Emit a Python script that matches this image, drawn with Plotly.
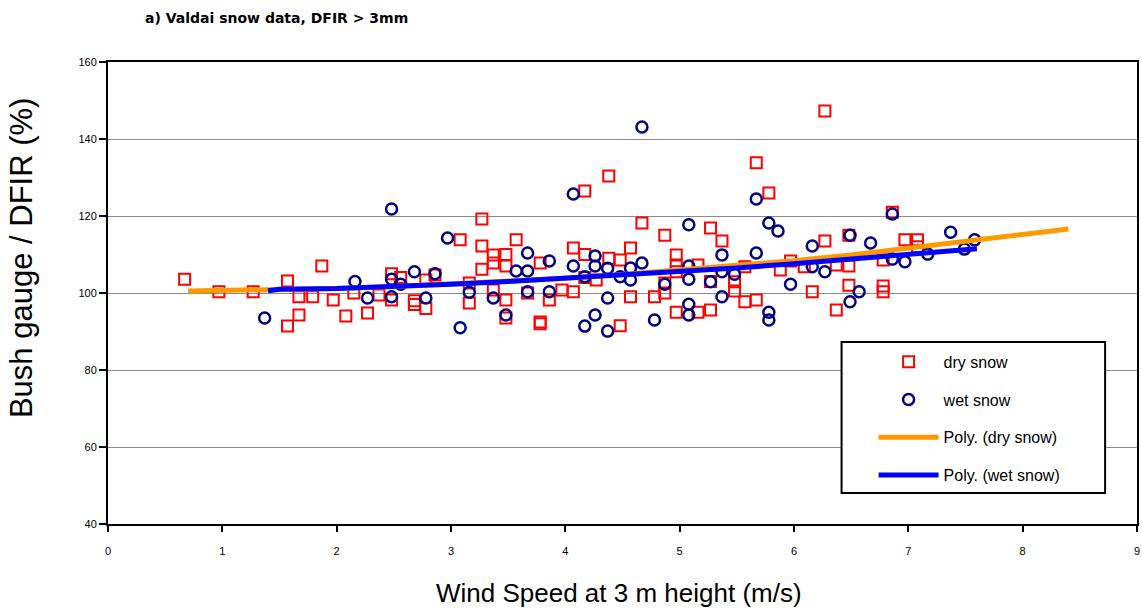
import plotly.graph_objects as go

# ---- data ----
dry_wind = [0.67, 0.97, 1.27, 1.57, 1.57, 1.67, 1.67, 1.79, 1.87, 1.97, 2.08, 2.15, 2.27, 2.37,
            2.48, 2.48, 2.56, 2.68, 2.68, 2.78, 2.78, 2.86, 3.08, 3.16, 3.16, 3.27, 3.27, 3.27,
            3.37, 3.37, 3.37, 3.48, 3.48, 3.48, 3.48, 3.57, 3.67, 3.78, 3.78, 3.78, 3.86, 3.97,
            4.07, 4.07, 4.17, 4.17, 4.17, 4.27, 4.38, 4.38, 4.48, 4.48, 4.57, 4.57, 4.67, 4.78,
            4.87, 4.87, 4.87, 4.97, 4.97, 4.97, 4.97, 5.16, 5.16, 5.27, 5.27, 5.27, 5.37, 5.48,
            5.48, 5.57, 5.57, 5.67, 5.67, 5.78, 5.88, 5.97, 6.09, 6.16, 6.27, 6.27, 6.37, 6.37,
            6.48, 6.48, 6.48, 6.78, 6.78, 6.78, 6.86, 6.97, 7.08, 7.08]
dry_ratio = [103.6, 100.3, 100.3, 103.1, 91.4, 99.0, 94.3, 99.0, 107.0, 98.2, 94.0, 100.0, 94.8, 99.5,
             105.0, 98.2, 104.0, 98.0, 97.0, 96.0, 103.4, 104.7, 113.8, 102.6, 97.4, 119.2, 112.2, 106.2,
             109.9, 107.8, 100.8, 110.0, 107.0, 98.2, 93.5, 113.8, 100.0, 107.8, 92.5, 92.0, 98.2, 100.8,
             111.7, 100.3, 110.0, 104.0, 126.5, 103.4, 109.0, 130.4, 108.6, 91.5, 111.7, 99.0, 118.2, 99.0,
             115.0, 102.6, 100.0, 109.9, 107.3, 105.5, 95.0, 107.3, 95.0, 116.9, 95.6, 103.0, 113.5, 102.9,
             100.5, 106.8, 97.7, 133.8, 98.2, 126.0, 106.0, 108.3, 106.8, 100.3, 147.3, 113.5, 95.6, 107.3,
             115.0, 107.0, 102.0, 108.6, 101.8, 100.3, 121.0, 113.8, 113.8, 112.0]

wet_wind = [1.37, 2.16, 2.27, 2.48, 2.48, 2.48, 2.56, 2.68, 2.78, 2.86, 2.97, 3.08, 3.16, 3.37,
            3.48, 3.57, 3.67, 3.67, 3.67, 3.86, 3.86, 4.07, 4.07, 4.17, 4.17, 4.26, 4.26, 4.26,
            4.37, 4.37, 4.37, 4.48, 4.57, 4.57, 4.67, 4.67, 4.78, 4.87, 5.08, 5.08, 5.08, 5.08,
            5.08, 5.27, 5.37, 5.37, 5.37, 5.48, 5.67, 5.67, 5.78, 5.78, 5.78, 5.86, 5.97, 6.16,
            6.16, 6.27, 6.49, 6.49, 6.57, 6.67, 6.86, 6.86, 6.97, 7.17, 7.37, 7.49, 7.58]
wet_ratio = [93.5, 103.0, 98.7, 121.8, 103.6, 99.0, 102.3, 105.5, 98.7, 105.0, 114.3, 91.0, 100.2, 98.7,
             94.3, 105.7, 110.4, 105.7, 100.3, 108.3, 100.3, 107.0, 125.7, 104.2, 91.4, 109.6, 107.0, 94.3,
             106.4, 98.7, 90.1, 104.2, 106.5, 103.4, 107.8, 143.1, 93.0, 102.3, 117.7, 107.0, 103.6, 97.1,
             94.3, 102.9, 109.9, 105.5, 99.0, 104.9, 124.4, 110.4, 118.2, 95.0, 93.0, 116.1, 102.3, 112.2,
             106.8, 105.5, 115.0, 97.7, 100.3, 113.0, 120.5, 108.8, 108.1, 110.1, 115.8, 111.4, 113.8]

dry_trend_wind = [0.7, 1.0, 1.5, 2.0, 2.5, 3.0, 3.5, 4.0, 4.5, 5.0, 5.5, 6.0, 6.5, 7.0, 7.5, 8.0, 8.4]
dry_trend_ratio = [100.5, 100.6, 100.8, 101.2, 101.7, 102.3, 103.0, 103.8, 104.8, 105.9, 107.1,
                   108.4, 109.9, 111.6, 113.4, 115.0, 116.6]

wet_trend_wind = [1.4, 1.5, 2.0, 2.5, 3.0, 3.5, 4.0, 4.5, 5.0, 5.5, 6.0, 6.5, 7.0, 7.5, 7.6]
wet_trend_ratio = [100.6, 101.0, 101.2, 101.6, 102.3, 103.0, 103.8, 104.7, 105.6, 106.5, 107.6,
                   108.8, 110.1, 111.2, 111.5]

FONT = "Liberation Sans, Arial, sans-serif"

fig = go.Figure()
fig.add_trace(go.Scatter(
    x=dry_wind, y=dry_ratio, mode="markers", name="dry snow", legendgroup="a",
    marker=dict(symbol="square-open", size=11, color="#FF0000", line=dict(width=2, color="#FF0000")),
))
fig.add_trace(go.Scatter(
    x=wet_wind, y=wet_ratio, mode="markers", name="wet snow", legendgroup="b",
    marker=dict(symbol="circle-open", size=11, color="#000080", line=dict(width=2.5, color="#000080")),
))
fig.add_trace(go.Scatter(
    x=dry_trend_wind, y=dry_trend_ratio, mode="lines", name="Poly. (dry snow)", legendgroup="c",
    line=dict(color="#FF9900", width=5),
))
fig.add_trace(go.Scatter(
    x=wet_trend_wind, y=wet_trend_ratio, mode="lines", name="Poly. (wet snow)", legendgroup="d",
    line=dict(color="#0000FF", width=5),
))

fig.update_layout(
    width=1142, height=610,
    margin=dict(l=108, r=3, t=62, b=86),
    paper_bgcolor="white", plot_bgcolor="white",
    font=dict(family=FONT, color="black"),
    showlegend=True,
    legend=dict(
        x=0.744, y=0.388, xanchor="left", yanchor="top",
        bgcolor="rgba(0,0,0,0)", borderwidth=0,
        font=dict(size=16, family=FONT), tracegroupgap=14,
        itemwidth=60,
    ),
    shapes=[
        dict(type="rect", xref="paper", yref="paper", layer="above",
             x0=0.7129, x1=0.9690, y0=0.0671, y1=0.3939,
             fillcolor="white", line=dict(color="black", width=2)),
    ],
    xaxis=dict(
        range=[0, 9], dtick=1, tick0=0,
        showline=True, linecolor="black", linewidth=2, mirror=True,
        ticks="outside", ticklen=6, tickwidth=1.5, tickcolor="black",
        showgrid=False, zeroline=False,
        tickfont=dict(size=11, family=FONT), ticklabelstandoff=10,
    ),
    yaxis=dict(
        range=[40, 160], dtick=20, tick0=40,
        showline=True, linecolor="black", linewidth=2, mirror=True,
        ticks="outside", ticklen=7, tickwidth=1.5, tickcolor="black",
        showgrid=True, gridcolor="#8c8c8c", gridwidth=1, zeroline=False,
        tickfont=dict(size=11, family=FONT),
    ),
    annotations=[
        dict(text="<b>a) Valdai snow data, DFIR > 3mm</b>", xref="paper", yref="paper",
             x=0.034, y=1.095, xanchor="left", yanchor="middle", showarrow=False,
             font=dict(size=14, family="DejaVu Sans, sans-serif")),
        dict(text="Wind Speed at 3 m height (m/s)", xref="paper", yref="paper",
             x=0.4966, y=-0.149, xanchor="center", yanchor="middle", showarrow=False,
             font=dict(size=26, family=FONT)),
        dict(text="Bush gauge / DFIR (%)", xref="paper", yref="paper",
             x=-0.0834, y=0.576, xanchor="center", yanchor="middle", showarrow=False,
             textangle=-90, font=dict(size=31, family=FONT)),
    ],
)

fig.write_html("out.html")
